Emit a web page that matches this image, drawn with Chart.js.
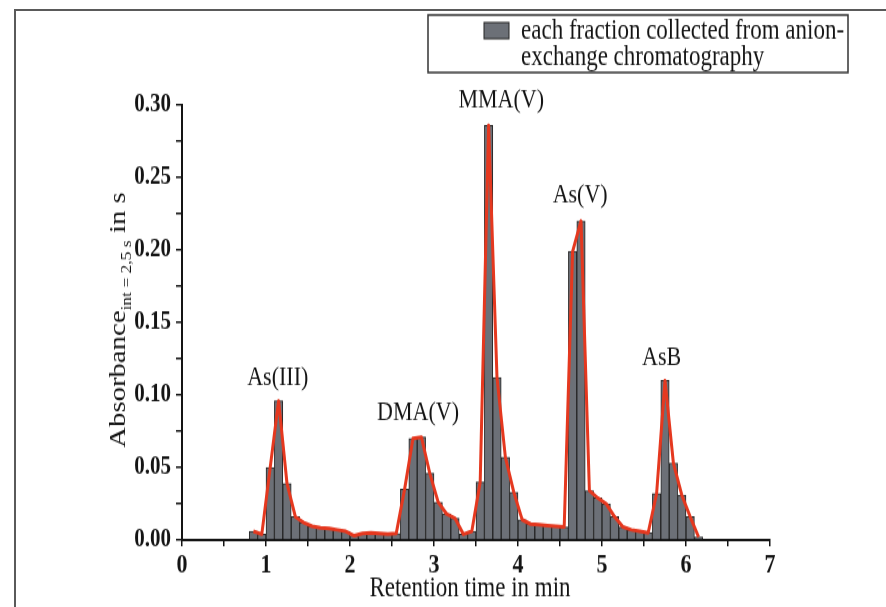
<!DOCTYPE html>
<html>
<head>
<meta charset="utf-8">
<script src="https://cdn.jsdelivr.net/npm/chart.js@4.4.1/dist/chart.umd.min.js"></script>
<style>
  html, body { margin: 0; padding: 0; background: #fff; overflow: hidden; }
  #page { position: relative; width: 886px; height: 607px; }
  #frame { position: absolute; left: 14px; top: 9px; width: 880px; height: 610px;
           border-top: 2px solid #5a5a5a; border-left: 2px solid #5a5a5a; }
  /* the original figure is slightly stretched vertically */
  #stretch { position: absolute; left: 0; top: 0; width: 886px; height: 486px;
             transform: scale(1, 1.25); transform-origin: 0 0; }
</style>
</head>
<body>
<div id="page">
  <div id="frame"></div>
  <div id="stretch"><canvas id="chart" width="886" height="486"></canvas></div>
</div>
<script>
// fraction centres (min) and absorbance of each collected fraction
const retentionTime = [
  0.85, 0.95,
  1.05, 1.15, 1.25, 1.35, 1.45, 1.55, 1.65, 1.75, 1.85, 1.95,
  2.05, 2.15, 2.25, 2.35, 2.45, 2.55, 2.65, 2.75, 2.85, 2.95,
  3.05, 3.15, 3.25, 3.35, 3.45, 3.55, 3.65, 3.75, 3.85, 3.95,
  4.05, 4.15, 4.25, 4.35, 4.45, 4.55, 4.65, 4.75, 4.85, 4.95,
  5.05, 5.15, 5.25, 5.35, 5.45, 5.55, 5.65, 5.75, 5.85, 5.95,
  6.05, 6.15
];
const absorbance = [
  0.006, 0.004,
  0.050, 0.096, 0.039, 0.016, 0.012, 0.0095, 0.0085, 0.008, 0.007, 0.006,
  0.003, 0.0045, 0.005, 0.0045, 0.004, 0.0045, 0.035, 0.070, 0.071, 0.046,
  0.026, 0.018, 0.015, 0.004, 0.006, 0.040, 0.286, 0.112, 0.057, 0.033,
  0.014, 0.011, 0.0105, 0.010, 0.0095, 0.009, 0.199, 0.220, 0.034, 0.029,
  0.025, 0.016, 0.009, 0.007, 0.006, 0.005, 0.032, 0.110, 0.053, 0.031,
  0.016, 0.002
];

const peakLabels = ['As(III)', 'DMA(V)', 'MMA(V)', 'As(V)', 'AsB'];
const peakLabelX = [1.14, 2.81, 3.80, 4.74, 5.71];
const peakLabelY = [0.112, 0.088, 0.303, 0.238, 0.126];

const legendLines = ['each fraction collected from anion-', 'exchange chromatography'];
const xTitle = 'Retention time in min';
const yTitle = ['Absorbance', 'int = 2,5 s', ' in s'];

const SERIF = '"Liberation Serif", "Times New Roman", serif';
const INK = '#141414';
const BAR_FILL = '#6c7077';
const BAR_EDGE = '#242424';

const points = retentionTime.map((t, i) => ({ x: t, y: absorbance[i] }));

// titles, peak names and the boxed legend
const decor = {
  id: 'decor',
  afterDraw(chart) {
    const { ctx, scales: { x, y } } = chart;
    ctx.save();
    ctx.fillStyle = INK;
    ctx.textAlign = 'center';
    ctx.textBaseline = 'middle';

    ctx.font = `22px ${SERIF}`;
    peakLabels.forEach((t, i) => {
      ctx.fillText(t, x.getPixelForValue(peakLabelX[i]), y.getPixelForValue(peakLabelY[i]));
    });

    ctx.font = `23px ${SERIF}`;
    ctx.fillText(xTitle, 470, 471);

    // y title with subscript, rotated
    ctx.save();
    ctx.translate(119, 256);
    ctx.rotate(-Math.PI / 2);
    ctx.textAlign = 'left';
    const big = `23px ${SERIF}`, small = `14px ${SERIF}`;
    ctx.font = big; const w1 = ctx.measureText(yTitle[0]).width;
    ctx.font = small; const w2 = ctx.measureText(yTitle[1]).width;
    ctx.font = big; const w3 = ctx.measureText(yTitle[2]).width;
    let cx = -(w1 + w2 + w3) / 2;
    ctx.font = big; ctx.fillText(yTitle[0], cx, 0); cx += w1;
    ctx.font = small; ctx.fillText(yTitle[1], cx, 8); cx += w2;
    ctx.font = big; ctx.fillText(yTitle[2], cx, 0);
    ctx.restore();

    // legend box
    ctx.strokeStyle = '#333';
    ctx.lineWidth = 1.5;
    ctx.strokeRect(428, 12, 420, 46);
    ctx.fillStyle = BAR_FILL;
    ctx.fillRect(484, 18, 25, 13);
    ctx.strokeStyle = BAR_EDGE;
    ctx.lineWidth = 1;
    ctx.strokeRect(484, 18, 25, 13);
    ctx.fillStyle = INK;
    ctx.textAlign = 'left';
    ctx.font = `23px ${SERIF}`;
    ctx.fillText(legendLines[0], 521, 25);
    ctx.fillText(legendLines[1], 521, 46);
    ctx.restore();
  }
};

Chart.defaults.font.family = SERIF;
Chart.defaults.color = INK;

new Chart(document.getElementById('chart'), {
  type: 'bar',
  data: {
    datasets: [
      {
        type: 'line',
        data: points,
        borderColor: '#e5381f',
        borderWidth: 3,
        borderJoinStyle: 'round',
        pointRadius: 0,
        tension: 0,
        fill: false,
        order: 0
      },
      {
        type: 'bar',
        label: legendLines.join(''),
        data: points,
        backgroundColor: BAR_FILL,
        borderColor: BAR_EDGE,
        borderWidth: 1,
        barPercentage: 1,
        categoryPercentage: 1,
        order: 1
      }
    ]
  },
  options: {
    responsive: false,
    animation: false,
    devicePixelRatio: 1,
    layout: { padding: { top: 84, right: 116, left: 0, bottom: 0 } },
    plugins: { legend: { display: false }, tooltip: { enabled: false } },
    scales: {
      x: {
        type: 'linear',
        min: 0,
        max: 7,
        offset: false,
        afterFit: (s) => { s.height = 54; },
        ticks: {
          stepSize: 0.5,
          autoSkip: false,
          maxRotation: 0,
          padding: 2,
          font: { size: 22, weight: 'bold' },
          callback: (v) => (Number.isInteger(v) ? String(v) : '')
        },
        grid: { offset: false, drawOnChartArea: false, drawTicks: true, tickLength: 5, color: INK, lineWidth: 1.5 },
        border: { display: true, color: INK, width: 2 }
      },
      y: {
        min: 0,
        max: 0.3,
        afterFit: (s) => { s.width = 182; },
        ticks: {
          stepSize: 0.025,
          autoSkip: false,
          padding: 5,
          font: { size: 21, weight: 'bold' },
          callback: (v) => (Math.round(v * 40) % 2 === 0 ? v.toFixed(2) : '')
        },
        grid: { drawOnChartArea: false, drawTicks: true, tickLength: 6, color: INK, lineWidth: 1.5 },
        border: { display: true, color: INK, width: 2 }
      }
    }
  },
  plugins: [decor]
});
</script>
</body>
</html>
